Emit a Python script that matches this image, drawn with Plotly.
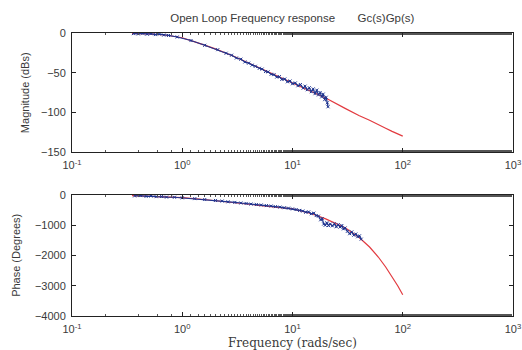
import plotly.graph_objects as go
from plotly.subplots import make_subplots

# Model response Gc(s)Gp(s): frequency (rad/s), magnitude (dB), phase (deg)
model_freq = [0.35, 0.5, 0.7, 1.0, 1.5, 2, 3, 5, 8, 10, 15, 20, 30, 36, 40, 50, 60, 70, 80, 90, 100]
model_mag = [-0.5, -1, -2.5, -6, -14, -20, -30, -44, -57, -63, -74, -82, -95, -101, -104, -110, -116, -120, -124, -127, -130]
model_phase = [-20, -40, -60, -85, -140, -185, -250, -330, -410, -460, -620, -790, -1080, -1270, -1400, -1720, -2050, -2380, -2700, -3000, -3300]

# Measured magnitude
meas_mag_freq = [0.36, 0.40, 0.44, 0.48, 0.52, 0.57, 0.62, 0.68, 0.75, 0.90, 1.2, 1.6, 2.1, 2.5, 2.8,
                 3.1, 3.4, 3.7, 4.0, 4.3, 4.6, 5.0, 5.3, 5.7, 6.0, 6.4, 6.8, 7.2, 7.6, 8.0, 8.5,
                 9.0, 9.5, 10.0, 10.6, 11.2, 11.8, 12.5, 13.0, 13.6, 14.2, 14.8, 15.4, 16.0, 16.6,
                 17.2, 17.8, 18.4, 19.0, 19.6, 20.2, 20.7, 21.0]
meas_mag = [-0.8, -1.2, -0.5, -1.5, -0.9, -2.0, -1.4, -2.6, -3.1, -5.0, -9.5, -15.5, -21, -25.5, -28,
            -31.5, -33, -36.5, -38, -40.5, -42, -44.5, -45.5, -48.5, -49, -52, -52.5, -55.5, -55, -58.5, -58,
            -61.5, -60.5, -64, -63, -66.5, -65, -69.5, -67, -71.5, -69, -74, -70.5, -76.5, -72,
            -78, -75, -80.5, -77, -84, -81, -88, -93]

# Measured phase
meas_ph_freq = [0.37, 0.42, 0.47, 0.52, 0.58, 0.65, 0.72, 0.85, 1.0, 1.3, 1.6, 2.0, 2.3, 2.6, 3.0,
                3.4, 3.8, 4.2, 4.7, 5.2, 5.8, 6.4, 7.0, 7.7, 8.4, 9.2, 10.0, 10.8, 11.6, 12.4,
                13.2, 14.0, 14.8, 15.6, 16.4, 17.2, 18.0, 18.6, 19.2, 19.8, 20.5, 21.2, 22.0, 23.0,
                24.0, 25.0, 26.0, 27.0, 28.0, 29.0, 30.0, 31.5, 33.0, 34.5, 36.0, 37.5, 39.0, 40.5, 42.0]
meas_phase = [-30, -20, -45, -35, -55, -50, -70, -75, -95, -120, -150, -180, -200, -225, -245,
              -265, -280, -300, -315, -330, -350, -365, -385, -400, -420, -435, -460, -480, -510, -530,
              -570, -560, -620, -600, -680, -700, -820, -780, -960, -1000, -920, -1010, -960, -1020,
              -950, -1050, -980, -1060, -1010, -1120, -1090, -1200, -1280, -1220, -1330, -1290, -1380, -1350, -1460]

# Decade ticks on the frequency axis
freq_ticks = [0.1, 1, 10, 100, 1000]
freq_tick_text = ["10<sup>-1</sup>", "10<sup>0</sup>", "10<sup>1</sup>", "10<sup>2</sup>", "10<sup>3</sup>"]
mag_ticks = [0, -50, -100, -150]
phase_ticks = [0, -1000, -2000, -3000, -4000]

RED = "#e23a3f"
BLUE = "#1f3590"
TXT = "#3a3a3a"
SANS = "Liberation Sans, Arial, sans-serif"

fig = make_subplots(rows=2, cols=1, vertical_spacing=0.16)

fig.add_trace(go.Scatter(x=model_freq, y=model_mag, mode="lines", line=dict(color=RED, width=1.2),
                         showlegend=False), row=1, col=1)
fig.add_trace(go.Scatter(x=meas_mag_freq, y=meas_mag, mode="lines+markers",
                         line=dict(color=BLUE, width=1.2),
                         marker=dict(color=BLUE, size=3, symbol="x-thin", line=dict(color=BLUE, width=1)),
                         showlegend=False), row=1, col=1)
fig.add_trace(go.Scatter(x=model_freq, y=model_phase, mode="lines", line=dict(color=RED, width=1.2),
                         showlegend=False), row=2, col=1)
fig.add_trace(go.Scatter(x=meas_ph_freq, y=meas_phase, mode="lines+markers",
                         line=dict(color=BLUE, width=1.2),
                         marker=dict(color=BLUE, size=3, symbol="x-thin", line=dict(color=BLUE, width=1)),
                         showlegend=False), row=2, col=1)

xcommon = dict(type="log", range=[-1, 3], tickmode="array", tickvals=freq_ticks, ticktext=freq_tick_text,
               showline=True, linecolor="#222", linewidth=1, mirror="allticks", automargin=False,
               ticks="inside", ticklen=4, tickcolor="#222", showgrid=False, zeroline=False,
               ticklabelstandoff=3,
               tickfont=dict(family=SANS, size=11, color=TXT),
               minor=dict(ticks="inside", ticklen=2, tickcolor="#555", showgrid=False))
ycommon = dict(showline=True, linecolor="#222", linewidth=1, mirror="allticks", automargin=False,
               ticks="inside", ticklen=4, tickcolor="#222", showgrid=False, zeroline=False,
               tickmode="array", tickformat="d", ticklabelstandoff=3,
               tickfont=dict(family=SANS, size=11, color=TXT))

fig.update_xaxes(**xcommon)
fig.update_yaxes(**ycommon)
fig.update_xaxes(domain=[0, 1], row=1, col=1)
fig.update_xaxes(domain=[0, 1], row=2, col=1)
fig.update_yaxes(domain=[0.5795, 1], range=[-150, 0], tickvals=mag_ticks, row=1, col=1)
fig.update_yaxes(domain=[0, 0.4276], range=[-4000, 0], tickvals=phase_ticks, row=2, col=1)

# Axis titles placed in paper coordinates
fig.add_annotation(text="Frequency (rads/sec)", xref="paper", yref="paper", x=0.5, y=-0.097,
                   xanchor="center", yanchor="middle", showarrow=False,
                   font=dict(family="DejaVu Serif, serif", size=12, color=TXT))
fig.add_annotation(text="Magnitude (dBs)", xref="paper", yref="paper", x=-0.105, y=0.79,
                   xanchor="center", yanchor="middle", textangle=-90, showarrow=False,
                   font=dict(family=SANS, size=11, color=TXT))
fig.add_annotation(text="Phase (Degrees)", xref="paper", yref="paper", x=-0.126, y=0.214,
                   xanchor="center", yanchor="middle", textangle=-90, showarrow=False,
                   font=dict(family=SANS, size=11, color=TXT))

fig.update_layout(
    width=522, height=350,
    margin=dict(l=72, r=9, t=33, b=34),
    paper_bgcolor="white", plot_bgcolor="white",
    title=dict(text="Open Loop Frequency response\u00a0\u00a0\u00a0\u00a0\u00a0\u00a0\u00a0Gc(s)Gp(s)",
               x=0.56, xanchor="center", y=0.95, yanchor="middle",
               font=dict(family=SANS, size=11.5, color=TXT)),
)

fig.write_html("out.html")
